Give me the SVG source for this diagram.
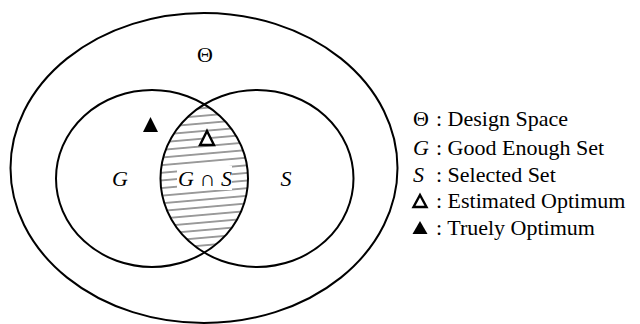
<svg xmlns="http://www.w3.org/2000/svg" width="640" height="324" viewBox="0 0 640 324">
<style>
.ln{fill:none;stroke:#000;stroke-width:2}
.i{font-style:italic}
</style>
<defs>
<pattern id="hatch" patternUnits="userSpaceOnUse" width="40" height="7.6" patternTransform="rotate(-5)">
<line x1="0" y1="3.8" x2="40" y2="3.8" stroke="#333" stroke-width="1"/>
</pattern>
<clipPath id="clipG"><ellipse cx="152" cy="178.5" rx="96" ry="88.5"/></clipPath>
<clipPath id="clipS"><ellipse cx="257" cy="178.5" rx="96.5" ry="88.5"/></clipPath>
</defs>
<rect width="640" height="324" fill="#fff"/>
<g font-family="Liberation Serif, DejaVu Serif, serif" font-size="22" fill="#000">
<g id="intersection">
<g clip-path="url(#clipS)"><rect x="100" y="80" width="200" height="200" fill="url(#hatch)" clip-path="url(#clipG)"/></g>
<rect x="177" y="166" width="55" height="24" fill="#fff"/>
<text class="i" x="205" y="186" text-anchor="middle">G ∩ S</text>
</g>
<g id="theta">
<ellipse class="ln" cx="204" cy="168" rx="193.5" ry="155"/>
<text x="205" y="62" text-anchor="middle">Θ</text>
</g>
<g id="G">
<ellipse class="ln" cx="152" cy="178.5" rx="96" ry="88.5"/>
<text class="i" x="120" y="186" text-anchor="middle">G</text>
</g>
<g id="S">
<ellipse class="ln" cx="257" cy="178.5" rx="96.5" ry="88.5"/>
<text class="i" x="286" y="186" text-anchor="middle">S</text>
</g>
<g id="true-opt"><polygon points="150.5,117 158,132 143,132" fill="#000"/></g>
<g id="est-opt"><polygon points="207,131 214,145 200,145" fill="#fff" stroke="#000" stroke-width="2.4"/></g>
<g id="legend">
<text x="413" y="126">Θ</text><text x="436" y="126">: Design Space</text>
<text class="i" x="413" y="155">G</text><text x="436" y="155">: Good Enough Set</text>
<text class="i" x="413" y="182">S</text><text x="436" y="182">: Selected Set</text>
<polygon points="420,195 426.5,207 413.5,207" fill="#fff" stroke="#000" stroke-width="2.4"/><text x="436" y="208">: Estimated Optimum</text>
<polygon points="420,221 427.5,234 412.5,234" fill="#000"/><text x="436" y="235">: Truely Optimum</text>
</g>
</g>
</svg>
